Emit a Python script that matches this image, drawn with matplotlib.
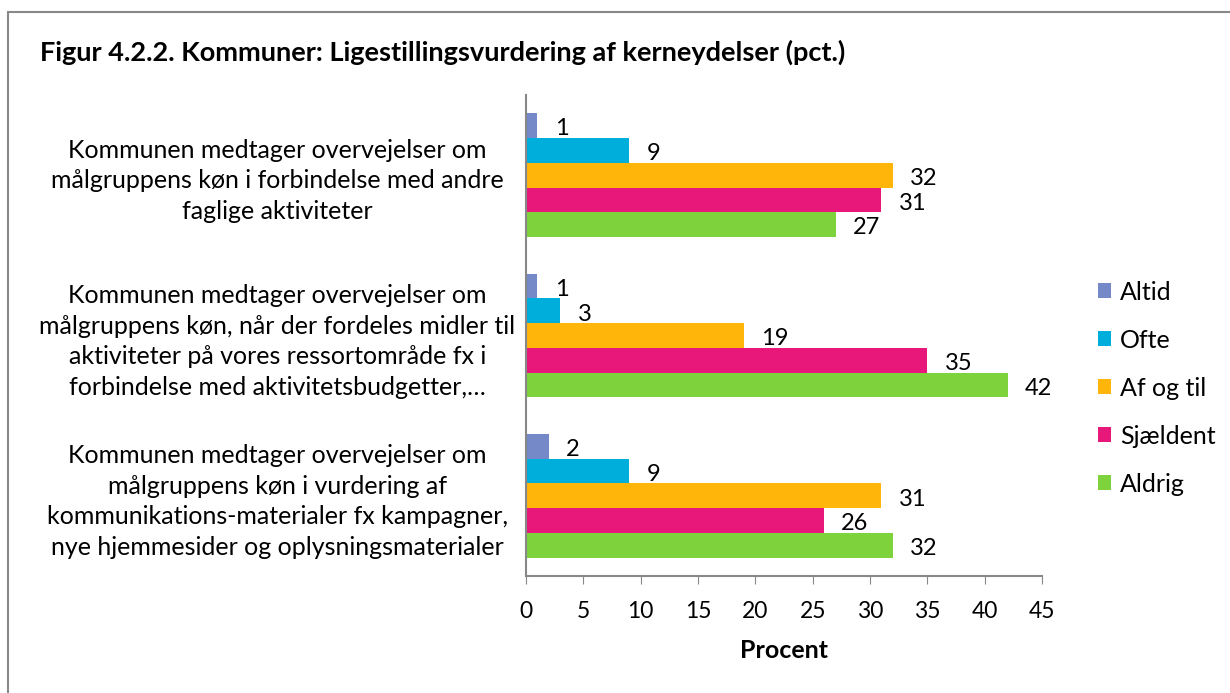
import matplotlib
matplotlib.use("Agg")
import matplotlib.pyplot as plt
import numpy as np
from matplotlib.patches import Rectangle

categories = [
    "Kommunen medtager overvejelser om\nmålgruppens køn i forbindelse med andre\nfaglige aktiviteter",
    "Kommunen medtager overvejelser om\nmålgruppens køn, når der fordeles midler til\naktiviteter på vores ressortområde fx i\nforbindelse med aktivitetsbudgetter,…",
    "Kommunen medtager overvejelser om\nmålgruppens køn i vurdering af\nkommunikations-materialer fx kampagner,\nnye hjemmesider og oplysningsmaterialer",
]
series_names = ["Altid", "Ofte", "Af og til", "Sjældent", "Aldrig"]
altid = [1, 1, 2]
ofte = [9, 3, 9]
af_og_til = [32, 19, 31]
sjaeldent = [31, 35, 26]
aldrig = [27, 42, 32]
values = [altid, ofte, af_og_til, sjaeldent, aldrig]
colors = ["#7589C9", "#00AEDB", "#FFB50A", "#E8177A", "#7ED23B"]
xticks = [0, 5, 10, 15, 20, 25, 30, 35, 40, 45]

plt.rcParams['font.family'] = ['Lato', 'DejaVu Sans']

fig = plt.figure(figsize=(12.3, 6.93), dpi=100)
ax = fig.add_axes([526/1230, 1-576/693, (1042-526)/1230, (576-95)/693])

n = len(categories)
group_pos = np.arange(n)
bh = 0.154
for i, (name, vals, c) in enumerate(zip(series_names, values, colors)):
    ypos = group_pos - 2*bh + i*bh
    ax.barh(ypos, vals, height=bh, color=c, label=name)
    for y, v in zip(ypos, vals):
        ax.text(v + 1.5, y + 0.02, str(v), va='center', ha='left', fontsize=17)

ax.set_ylim(n - 0.5, -0.5)
ax.set_xlim(0, 45)
ax.set_xticks(xticks)
ax.set_xticklabels([str(t) for t in xticks], fontsize=16.5)
ax.set_yticks(group_pos)
ax.set_yticklabels(categories, fontsize=18, ha='center', linespacing=1.4)
ax.tick_params(axis='y', length=0, pad=179)
ax.tick_params(axis='x', length=6, color='#888888', pad=12)
for s in ['top', 'right']:
    ax.spines[s].set_visible(False)
for s in ['left', 'bottom']:
    ax.spines[s].set_color('#888888')
    ax.spines[s].set_linewidth(1.5)
ax.set_xlabel("Procent", fontsize=18, fontweight='bold', labelpad=12)

leg = fig.legend(loc='upper left', bbox_to_anchor=(1075/1230, 1-258/693), frameon=False,
                 fontsize=18, handlelength=0.55, handleheight=0.55, labelspacing=1.0,
                 handletextpad=0.35)

fig.text(40/1230, 1-52/693, "Figur 4.2.2. Kommuner: Ligestillingsvurdering af kerneydelser (pct.)",
         fontsize=19.5, fontweight='bold', va='center', ha='left')

fig.patches.append(Rectangle((8/1230, -0.05), 1.1, 1-12/693+0.05, transform=fig.transFigure,
                             fill=False, edgecolor='#888888', linewidth=1.5))

fig.savefig("out.png", dpi=100)
